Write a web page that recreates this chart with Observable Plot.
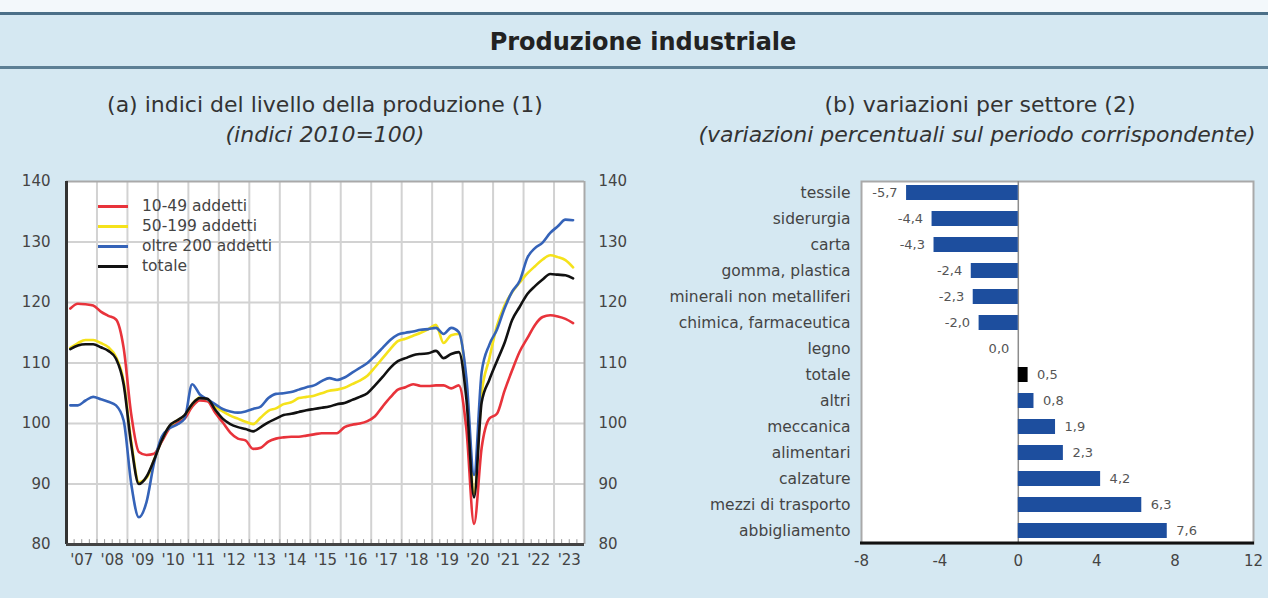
<!DOCTYPE html>
<html>
<head>
<meta charset="utf-8">
<script src="https://cdn.jsdelivr.net/npm/d3@7"></script>
<script src="https://cdn.jsdelivr.net/npm/@observablehq/plot@0.6"></script>
<style>
  html, body { margin: 0; padding: 0; }
  body { width: 1268px; height: 598px; position: relative; overflow: hidden; background: #d5e8f2; font-family: "DejaVu Sans", sans-serif; color: #333; }
  .abs { position: absolute; }
  .center { text-align: center; white-space: nowrap; }
  .legend-row { position: absolute; left: 0; height: 20px; line-height: 20px; font-size: 15.5px; color: #444; white-space: nowrap; }
  .legend-row span.sw { position: absolute; left: 0; top: 9px; width: 30px; height: 3px; }
  .legend-row span.tx { position: absolute; left: 44px; top: 0; }
</style>
</head>
<body>
<div class="abs" style="left:0;top:0;width:1268px;height:12px;background:#f3f8fb"></div>
<div class="abs" style="left:0;top:12px;width:1268px;height:3px;background:#4b6f88"></div>
<div class="abs center" style="left:0;top:26px;width:1286px;height:32px;line-height:32px;font-size:24px;font-weight:bold;color:#222">Produzione industriale</div>
<div class="abs" style="left:0;top:66px;width:1268px;height:3px;background:#5d7f95"></div>

<div class="abs center" style="left:25px;top:91px;width:600px;height:28px;line-height:28px;font-size:22px">(a) indici del livello della produzione (1)</div>
<div class="abs center" style="left:25px;top:121px;width:600px;height:28px;line-height:28px;font-size:22px;font-style:italic">(indici 2010=100)</div>
<div class="abs center" style="left:680px;top:91px;width:600px;height:28px;line-height:28px;font-size:22px">(b) variazioni per settore (2)</div>
<div class="abs center" style="left:677px;top:121px;width:600px;height:28px;line-height:28px;font-size:22px;font-style:italic">(variazioni percentuali sul periodo corrispondente)</div>

<div id="left" class="abs" style="left:0;top:160px"></div>
<div id="right" class="abs" style="left:640px;top:160px"></div>
<div id="legend" class="abs" style="left:98px;top:196px"></div>

<script>
// ---------- Data: (a) quarterly production indices, 2007Q1 .. 2023Q3 ----------
const seriesNames = ["10-49 addetti", "50-199 addetti", "oltre 200 addetti", "totale"];
const seriesColors = ["#e8333b", "#f5e21b", "#3563b8", "#111111"];
const startYear = 2007;
const yearLabels = ["'07","'08","'09","'10","'11","'12","'13","'14","'15","'16","'17","'18","'19","'20","'21","'22","'23"];

const small = [119.0,119.8,119.7,119.5, 118.5,117.8,117.2,112.5, 101.5,95.3,94.8,95.0, 97.0,99.2,100.2,100.8,
  102.8,103.8,103.7,101.8, 100.2,98.5,97.5,97.2, 95.8,96.0,97.0,97.5, 97.7,97.8,97.8,98.0,
  98.2,98.4,98.4,98.4, 99.4,99.8,100.0,100.4, 101.2,102.8,104.3,105.6, 106.0,106.5,106.2,106.2,
  106.3,106.3,105.8,106.3, 99.0,83.4,96.0,100.8, 101.6,105.4,108.8,111.9, 114.1,116.3,117.6,117.9,
  117.7,117.3,116.6];
const medium = [112.5,113.3,113.8,113.8, 113.3,112.6,111.0,107.0, 97.0,90.3,91.0,94.0, 97.3,99.5,100.5,101.3,
  103.2,104.3,104.0,102.8, 102.0,101.3,100.8,100.3, 99.9,101.0,102.1,102.5, 103.2,103.5,104.2,104.4,
  104.6,105.0,105.4,105.6, 105.9,106.5,107.1,107.9, 109.3,110.8,112.3,113.6, 114.0,114.5,115.0,115.6,
  116.3,113.3,114.6,114.8, 106.5,88.5,105.0,110.7, 116.1,119.5,121.7,123.3, 124.8,126.0,127.1,127.8,
  127.5,127.0,125.8];
const large = [103.0,103.0,103.8,104.4, 104.0,103.6,103.0,100.5, 90.0,84.5,87.0,93.5, 97.8,99.2,99.8,100.8,
  106.5,104.8,104.0,103.2, 102.4,102.0,101.8,102.0, 102.4,102.8,104.2,104.9, 105.0,105.2,105.6,106.0,
  106.3,107.0,107.5,107.2, 107.6,108.4,109.2,110.0, 111.2,112.5,113.8,114.7, 115.0,115.2,115.5,115.6,
  115.8,114.8,115.8,115.1, 107.5,91.5,108.5,113.0, 115.5,119.0,121.8,123.6, 127.4,129.0,129.9,131.5,
  132.6,133.7,133.6];
const total = [112.3,112.9,113.1,113.1, 112.6,112.0,110.7,106.5, 96.5,90.0,91.2,94.0, 97.2,99.6,100.5,101.4,
  103.2,104.2,104.1,102.3, 100.8,99.9,99.4,99.1, 98.7,99.4,100.2,100.8, 101.4,101.6,101.9,102.2,
  102.4,102.6,102.8,103.2, 103.4,103.9,104.4,105.0, 106.3,107.7,109.2,110.3, 110.8,111.3,111.5,111.6,
  112.0,110.8,111.5,111.8, 104.0,87.8,103.5,107.2, 110.3,113.3,117.1,119.3, 121.4,122.7,123.8,124.7,
  124.6,124.5,124.0];
const yTicks = [80, 90, 100, 110, 120, 130, 140];

// ---------- Data: (b) sector changes ----------
const sectors = ["tessile","siderurgia","carta","gomma, plastica","minerali non metalliferi","chimica, farmaceutica","legno","totale","altri","meccanica","alimentari","calzature","mezzi di trasporto","abbigliamento"];
const changes = [-5.7,-4.4,-4.3,-2.4,-2.3,-2.0,0.0,0.5,0.8,1.9,2.3,4.2,6.3,7.6];
const xTicksB = [-8, -4, 0, 4, 8, 12];

// ---------- Build tables ----------
const seriesValues = [small, medium, large, total];
const lineTable = [];
seriesValues.forEach((vals, si) => {
  vals.forEach((v, i) => lineTable.push({t: startYear + (i + 0.5) / 4, v, s: seriesNames[si]}));
});
const endYear = startYear + yearLabels.length;
const yearStarts = d3.range(startYear + 1, endYear);
const yearCenters = d3.range(startYear, endYear).map(y => y + 0.5);
const quarterTicks = d3.range(startYear, endYear, 0.25);

const leftPlot = Plot.plot({
  width: 634, height: 414,
  marginLeft: 66, marginRight: 50, marginTop: 21, marginBottom: 30,
  style: {background: "transparent", fontFamily: "DejaVu Sans", fontSize: "15px", color: "#444", overflow: "visible"},
  x: {domain: [startYear, endYear]},
  y: {domain: [80, 140]},
  color: {domain: seriesNames, range: seriesColors},
  marks: [
    Plot.frame({fill: "white", stroke: "none"}),
    Plot.ruleX(yearStarts, {stroke: "#d2d2d2", strokeWidth: 2}),
    Plot.ruleY(yTicks.slice(1, -1), {stroke: "#d2d2d2", strokeWidth: 2}),
    Plot.ruleX(quarterTicks, {y1: 80, y2: 80.8, stroke: "#999", strokeWidth: 1}),
    Plot.line(lineTable, {x: "t", y: "v", z: "s", stroke: "s", strokeWidth: 2.6, curve: "monotone-x"}),
    Plot.ruleY([140], {stroke: "#a9a9a9", strokeWidth: 2}),
    Plot.ruleX([endYear], {stroke: "#a9a9a9", strokeWidth: 2}),
    Plot.ruleX([startYear], {stroke: "#333", strokeWidth: 3}),
    Plot.ruleY([80], {stroke: "#444", strokeWidth: 3}),
    Plot.axisY({anchor: "left", ticks: yTicks, tickSize: 0, tickPadding: 16, label: null}),
    Plot.axisY({anchor: "right", ticks: yTicks, tickSize: 0, tickPadding: 14, label: null}),
    Plot.axisX({ticks: yearCenters, tickFormat: d => yearLabels[Math.floor(d) - startYear], tickSize: 0, tickPadding: 10, label: null})
  ]
});
document.getElementById("left").appendChild(leftPlot);

// legend
const legend = document.getElementById("legend");
seriesNames.forEach((n, i) => {
  const row = document.createElement("div");
  row.className = "legend-row";
  row.style.top = (i * 20) + "px";
  row.innerHTML = `<span class="sw" style="background:${seriesColors[i]}"></span><span class="tx">${n}</span>`;
  legend.appendChild(row);
});

// ---------- Right chart ----------
const barTable = sectors.map((s, i) => ({s, v: changes[i]}));
const fmt = v => v.toFixed(1).replace(".", ",").replace("-0,0", "0,0");

const bottomLine = (index, scales, values, dims) => {
  const ns = "http://www.w3.org/2000/svg";
  const l = document.createElementNS(ns, "line");
  l.setAttribute("x1", dims.marginLeft - 1);
  l.setAttribute("x2", dims.width - dims.marginRight + 1);
  l.setAttribute("y1", dims.height - dims.marginBottom);
  l.setAttribute("y2", dims.height - dims.marginBottom);
  l.setAttribute("stroke", "#111");
  l.setAttribute("stroke-width", 3);
  return l;
};

const rightPlot = Plot.plot({
  width: 628, height: 413,
  marginLeft: 221, marginRight: 15, marginTop: 21, marginBottom: 30,
  style: {background: "transparent", fontFamily: "DejaVu Sans", fontSize: "15px", color: "#444", overflow: "visible"},
  x: {domain: [-8, 12]},
  y: {domain: sectors, padding: 0.42, range: [14, 389]},
  marks: [
    Plot.frame({fill: "white", stroke: "#a9a9a9", strokeWidth: 2}),
    Plot.ruleX([0], {stroke: "#8c8c8c", strokeWidth: 1.5}),
    Plot.barX(barTable, {x: "v", y: "s", fill: d => d.s === "totale" ? "#000" : "#1d4e9e"}),
    Plot.text(barTable.filter(d => d.v <= 0), {x: "v", y: "s", text: d => fmt(d.v), textAnchor: "end", dx: -9, fontSize: 13, fill: "#555"}),
    Plot.text(barTable.filter(d => d.v > 0), {x: "v", y: "s", text: d => fmt(d.v), textAnchor: "start", dx: 9, fontSize: 13, fill: "#555"}),
    bottomLine,
    Plot.axisY({anchor: "left", tickSize: 0, tickPadding: 11, label: null, fontSize: 15.5}),
    Plot.axisX({ticks: xTicksB, tickFormat: d => String(d), tickSize: 0, tickPadding: 12, label: null})
  ]
});
document.getElementById("right").appendChild(rightPlot);
</script>
</body>
</html>
